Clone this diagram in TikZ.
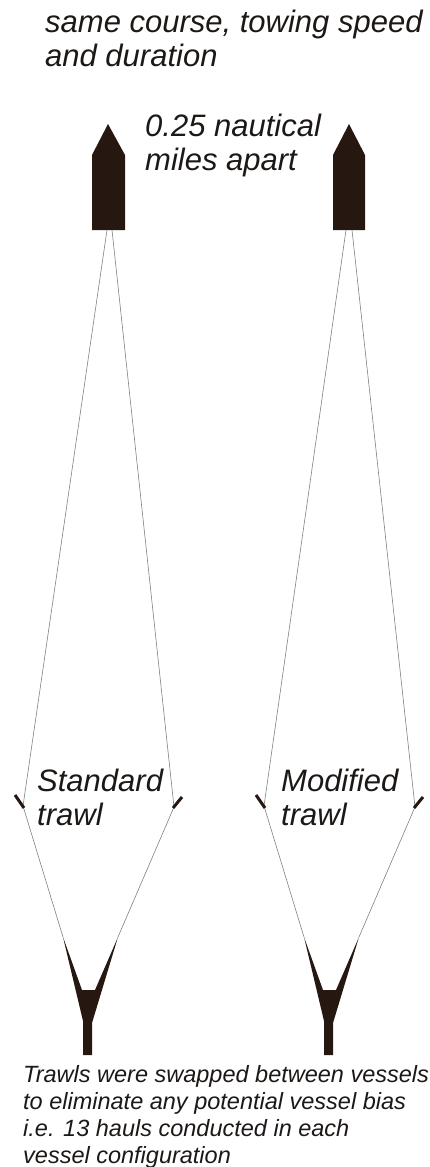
\documentclass[tikz,border=0pt]{standalone}
\usepackage{fontspec}
\setmainfont{Liberation Sans}
\definecolor{boatbrown}{RGB}{38,24,16}
\definecolor{inkgrey}{RGB}{28,24,22}
\begin{document}
\begin{tikzpicture}[x=1pt, y=-1pt,
    bigtext/.style={anchor=north west, inner sep=0pt, align=left, text=inkgrey, font=\fontsize{31}{34}\selectfont\itshape},
    smalltext/.style={bigtext, font=\fontsize{23.5}{27}\selectfont\itshape},
    vessel/.style={fill=boatbrown},
    warp/.style={black!50, line width=0.6pt},
    otter/.style={boatbrown, line width=3pt}]
    \useasboundingbox (0,0) rectangle (429,1167);

    %Texts
    \node[bigtext] at (45, 10) (course) {same course, towing speed\\and duration};
    \node[bigtext] at (145, 114) (apart) {0.25 nautical\\miles apart};
    \node[bigtext] at (37, 769) (std) {Standard\\trawl};
    \node[bigtext] at (281, 769) (mod) {Modified\\trawl};
    \node[smalltext] at (23, 1065) (swap) {Trawls were swapped between vessels\\to eliminate any potential vessel bias\\i.e. 13 hauls conducted in each\\vessel configuration};

    %Vessels
    \fill[vessel] (92,230) -- (92,155) -- (108,124) -- (125,155) -- (125,230) -- cycle;
    \fill[vessel] (333,230) -- (333,155) -- (349,124) -- (365,155) -- (365,230) -- cycle;

    %Points
    \coordinate (sternA1) at (107,230);
    \coordinate (sternA2) at (112,230);
    \coordinate (sternB1) at (346,230);
    \coordinate (sternB2) at (352,230);
    \coordinate (doorA1) at (23,806);
    \coordinate (doorA2) at (174,807);
    \coordinate (doorB1) at (264,806);
    \coordinate (doorB2) at (415,807);
    \coordinate (codA1) at (63,937);
    \coordinate (codA2) at (118,937);
    \coordinate (codB1) at (304,937);
    \coordinate (codB2) at (359,937);

    %Warps
    \draw[warp] (sternA1) -- (doorA1);
    \draw[warp] (sternA2) -- (doorA2);
    \draw[warp] (sternB1) -- (doorB1);
    \draw[warp] (sternB2) -- (doorB2);

    %Bridles
    \draw[warp] (doorA1) -- (codA1);
    \draw[warp] (doorA2) -- (codA2);
    \draw[warp] (doorB1) -- (codB1);
    \draw[warp] (doorB2) -- (codB2);

    %Doors
    \draw[otter] (15,795) -- (24,808);
    \draw[otter] (182,797) -- (173,808);
    \draw[otter] (256,795) -- (265,808);
    \draw[otter] (423,797) -- (414,808);

    %Cod ends
    \fill[vessel] (codA1) -- (82,990) -- (95,990) -- (codA2) -- (92,1023) -- (92,1055) -- (83,1055) -- (83,1021) -- cycle;
    \fill[vessel] (codB1) -- (323,990) -- (336,990) -- (codB2) -- (333,1023) -- (333,1055) -- (324,1055) -- (324,1021) -- cycle;

\end{tikzpicture}
\end{document}
